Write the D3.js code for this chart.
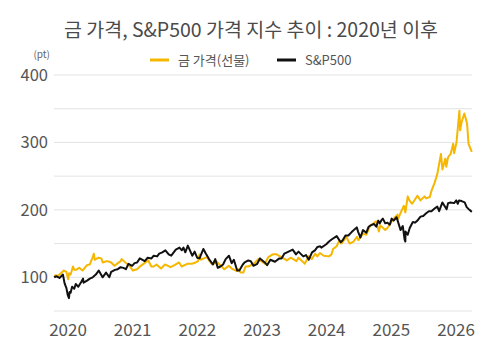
<!DOCTYPE html>
<html><head><meta charset="utf-8">
<script src="https://cdn.jsdelivr.net/npm/d3@7/dist/d3.min.js"></script>
<style>body{margin:0;background:#fff}svg{display:block}</style>
</head><body><svg id="c" width="500" height="357"></svg>
<script>
const titleText = "금 가격, S&P500 가격 지수 추이 : 2020년 이후";
const seriesNames = ["금 가격(선물)", "S&P500"];
const xTickLabels = ["2020","2021","2022","2023","2024","2025","2026"];
const yTickValues = [100,200,300,400];
const yGridValues = [50,100,150,200,250,300,350,400];

const goldDates = ["2020-01-02","2020-01-08","2020-01-20","2020-01-31","2020-02-24","2020-03-09","2020-03-19","2020-03-24","2020-04-01","2020-04-14","2020-04-21","2020-04-30","2020-05-18","2020-06-05","2020-06-30","2020-07-15","2020-07-31","2020-08-06","2020-08-11","2020-08-31","2020-09-16","2020-09-24","2020-10-15","2020-10-30","2020-11-09","2020-11-27","2020-12-16","2020-12-31",
"2021-01-05","2021-01-29","2021-02-12","2021-03-08","2021-03-31","2021-04-20","2021-05-31","2021-06-17","2021-06-30","2021-07-15","2021-08-09","2021-08-31","2021-09-30","2021-10-22","2021-11-16","2021-11-30","2021-12-31",
"2022-01-25","2022-02-15","2022-02-28","2022-03-08","2022-03-15","2022-03-31","2022-04-18","2022-04-29","2022-05-16","2022-06-10","2022-06-30","2022-07-21","2022-08-15","2022-08-31","2022-09-28","2022-10-04","2022-10-20","2022-11-03","2022-11-15","2022-11-30","2022-12-30",
"2023-01-25","2023-02-28","2023-03-20","2023-04-13","2023-05-04","2023-05-31","2023-06-29","2023-07-20","2023-08-21","2023-08-31","2023-09-29","2023-10-05","2023-10-27","2023-11-13","2023-12-01","2023-12-13","2023-12-27",
"2024-01-17","2024-02-14","2024-02-29","2024-03-08","2024-03-28","2024-04-12","2024-04-23","2024-05-20","2024-06-07","2024-06-28","2024-07-17","2024-07-25","2024-08-20","2024-09-06","2024-09-26","2024-10-30","2024-11-14","2024-11-22","2024-12-19","2024-12-31",
"2025-01-31","2025-02-24","2025-02-28","2025-03-20","2025-03-31","2025-04-08","2025-04-21","2025-04-30","2025-05-15","2025-05-30","2025-06-13","2025-06-30","2025-07-22","2025-07-31","2025-08-20","2025-08-29","2025-09-15","2025-09-30","2025-10-08","2025-10-20","2025-10-28","2025-11-13","2025-11-18","2025-11-28","2025-12-12","2025-12-26","2025-12-31",
"2026-01-13","2026-01-20","2026-01-29","2026-02-02","2026-02-10","2026-02-25","2026-03-05","2026-03-12","2026-03-20","2026-04-07"];
const goldValues = [100,103,102,104,110,108,97,106,104,116,111,111,114,110,118,119,130,135,126,129,128,122,124,123,122,117,121,124,
127,121,119,110,112,117,125,116,116,119,113,119,115,118,122,116,120,
120,122,124,134,126,128,130,125,119,123,118,112,117,113,109,112,107,107,116,116,120,
127,120,130,134,134,130,125,129,124,129,122,120,131,127,135,131,136,
132,131,134,142,146,155,150,160,150,153,160,155,165,163,176,183,168,177,170,173,
186,193,187,200,206,196,220,214,209,215,221,214,220,217,219,228,240,253,265,283,260,276,264,278,283,298,284,
300,320,347,318,330,343,335,328,298,286];

const spDates = ["2020-01-02","2020-01-15","2020-01-31","2020-02-19","2020-02-28","2020-03-09","2020-03-16","2020-03-23","2020-03-26","2020-04-01","2020-04-09","2020-04-21","2020-04-29","2020-05-13","2020-05-29","2020-06-08","2020-06-11","2020-06-30","2020-07-15","2020-07-31","2020-08-17","2020-09-02","2020-09-23","2020-10-12","2020-10-30","2020-11-09","2020-11-30","2020-12-15","2020-12-31",
"2021-01-15","2021-01-29","2021-02-12","2021-03-04","2021-03-17","2021-03-31","2021-04-15","2021-05-12","2021-05-28","2021-06-18","2021-06-30","2021-07-19","2021-07-30","2021-08-16","2021-09-02","2021-09-20","2021-10-04","2021-10-29","2021-11-18","2021-12-01","2021-12-10","2021-12-20",
"2022-01-03","2022-01-27","2022-02-09","2022-02-23","2022-03-08","2022-03-29","2022-04-12","2022-04-29","2022-05-20","2022-06-02","2022-06-16","2022-06-30","2022-07-15","2022-07-29","2022-08-16","2022-08-31","2022-09-12","2022-09-30","2022-10-12","2022-10-31","2022-11-10","2022-11-30","2022-12-13","2022-12-28",
"2023-01-18","2023-02-02","2023-02-28","2023-03-13","2023-03-31","2023-04-25","2023-05-19","2023-05-31","2023-06-15","2023-06-30","2023-07-31","2023-08-18","2023-09-01","2023-09-27","2023-10-12","2023-10-27","2023-11-14","2023-11-30","2023-12-14","2023-12-29",
"2024-01-04","2024-01-31","2024-02-15","2024-02-29","2024-03-28","2024-04-19","2024-04-30","2024-05-15","2024-05-31","2024-06-18","2024-07-16","2024-07-24","2024-08-05","2024-08-19","2024-09-06","2024-09-19","2024-09-30","2024-10-18","2024-10-31","2024-11-11","2024-11-19","2024-11-29","2024-12-06","2024-12-19","2024-12-31",
"2025-01-13","2025-01-23","2025-02-03","2025-02-19","2025-03-13","2025-03-25","2025-04-04","2025-04-08","2025-04-09","2025-04-21","2025-05-02","2025-05-19","2025-05-30","2025-06-13","2025-06-30","2025-07-15","2025-07-31","2025-08-15","2025-08-29","2025-09-15","2025-09-30","2025-10-10","2025-10-28","2025-11-20","2025-11-28","2025-12-11","2025-12-31",
"2026-01-12","2026-01-20","2026-01-27","2026-02-10","2026-02-27","2026-03-10","2026-03-25","2026-04-07"];
const spValues = [100,101.5,99,104,91,84,74,69,78,77,86,83,90,86,93,98,92,95,98,100,104,110,100,107,100,108,111,112,115,
114,112,120,117,121,122,128,124,129,128,132,131,135,137,140,134,132,141,144,140,144,137,
147,132,138,129,128,142,135,127,119,127,114,116,119,127,132,121,126,110,110,119,122,125,124,117,
120,128,122,118,126,123,128,128,135,137,141,134,138,131,133,126,137,140,145,146,
144,149,153,156,161,152,155,162,162,167,174,167,159,170,166,175,177,179,175,184,180,185,187,180,181,
178,187,184,189,170,176,156,153,168,163,173,182,181,184,190,191,195,198,198,202,205,198,211,201,210,211,210,
214,209,214,213,211,204,200,197];

const parse = d3.timeParse("%Y-%m-%d");
const gold = goldDates.map((d,i)=>({date:parse(d), v:goldValues[i]}));
const sp = spDates.map((d,i)=>({date:parse(d), v:spValues[i]}));

const svg = d3.select("#c");
const font = "'Noto Sans CJK KR','Noto Sans',sans-serif";
const textColor = "#555";

const x = d3.scaleTime().domain([parse("2020-01-01"), parse("2026-04-08")]).range([54, 472]);
const y = d3.scaleLinear().domain([50, 400]).range([311, 75]);
const xLab = d3.scalePoint().domain(xTickLabels).range([68, 456]);

// title
svg.append("text").attr("x", 251).attr("y", 37).attr("text-anchor","middle")
  .attr("font-family", font).attr("font-size", 19.5).attr("fill", "#4a4a4a").text(titleText);

// legend
const legend = [{name:seriesNames[0], color:"#F5B700", x:150},{name:seriesNames[1], color:"#111", x:277}];
legend.forEach(l=>{
  svg.append("line").attr("x1", l.x).attr("x2", l.x+19).attr("y1", 60).attr("y2", 60)
    .attr("stroke", l.color).attr("stroke-width", 3);
  svg.append("text").attr("x", l.x+28).attr("y", 64.5).attr("font-family", font)
    .attr("font-size", 13).attr("fill", textColor).text(l.name);
});

// unit
svg.append("text").attr("x", 50).attr("y", 58).attr("text-anchor","end")
  .attr("font-family", font).attr("font-size", 10).attr("fill", "#666").text("(pt)");

// grid
svg.append("g").selectAll("line").data(yGridValues).join("line")
  .attr("x1", 54).attr("x2", 472).attr("y1", d=>y(d)).attr("y2", d=>y(d))
  .attr("stroke", "#e3e3e3").attr("stroke-width", 1);

// y labels
svg.append("g").selectAll("text").data(yTickValues).join("text")
  .attr("x", 48).attr("y", d=>y(d)).attr("dy","0.36em").attr("text-anchor","end")
  .attr("font-family", font).attr("font-size", 16.5).attr("fill", textColor).text(d=>d);

// x labels
svg.append("g").selectAll("text").data(xTickLabels).join("text")
  .attr("x", d=>xLab(d)).attr("y", 336).attr("text-anchor","middle")
  .attr("font-family", font).attr("font-size", 17).attr("fill", textColor).text(d=>d);

const line = d3.line().x(d=>x(d.date)).y(d=>y(d.v));
svg.append("path").datum(gold).attr("d", line).attr("fill","none")
  .attr("stroke","#F5B700").attr("stroke-width",2).attr("stroke-linejoin","round");
svg.append("path").datum(sp).attr("d", line).attr("fill","none")
  .attr("stroke","#111").attr("stroke-width",2).attr("stroke-linejoin","round");
</script></body></html>
